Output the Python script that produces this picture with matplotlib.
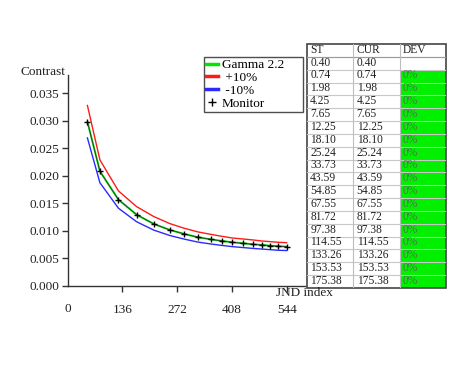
import matplotlib
matplotlib.use("Agg")
import matplotlib.pyplot as plt
from matplotlib.lines import Line2D
from matplotlib.patches import Rectangle

plt.rcParams['font.family'] = ['Liberation Serif', 'DejaVu Serif']

# JND index of each measured step
jnd = [49, 80, 126, 171, 214, 254, 290, 324, 355, 383, 409, 436, 461, 482, 503, 523, 544]
gamma22 = [0.0298, 0.0208, 0.01565, 0.01292, 0.01122, 0.01013, 0.0094, 0.0088, 0.00843,
           0.00813, 0.00789, 0.0077, 0.00752, 0.0074, 0.00728, 0.00716, 0.0071]
plus10 = [0.03276, 0.02287, 0.01723, 0.01438, 0.01256, 0.01128, 0.01043, 0.00977, 0.00934,
          0.00898, 0.00867, 0.00849, 0.00831, 0.00813, 0.00801, 0.00789, 0.00782]
minus10 = [0.02686, 0.01872, 0.01409, 0.01163, 0.0101, 0.00912, 0.00846, 0.00792, 0.00759,
           0.00732, 0.0071, 0.00693, 0.00677, 0.00666, 0.00655, 0.00644, 0.00639]
monitor = [0.0298, 0.0208, 0.01565, 0.01292, 0.01122, 0.01013, 0.0094, 0.0088, 0.00843,
           0.00813, 0.00789, 0.0077, 0.00752, 0.0074, 0.00728, 0.00716, 0.0071]

x_ticks = [136, 272, 408, 544]
y_ticks = [0.0, 0.005, 0.010, 0.015, 0.020, 0.025, 0.030, 0.035]

table_header = ["ST", "CUR", "DEV"]
st_vals = ["0.40", "0.74", "1.98", "4.25", "7.65", "12.25", "18.10", "25.24", "33.73", "43.59",
           "54.85", "67.55", "81.72", "97.38", "114.55", "133.26", "153.53", "175.38"]
cur_vals = ["0.40", "0.74", "1.98", "4.25", "7.65", "12.25", "18.10", "25.24", "33.73", "43.59",
            "54.85", "67.55", "81.72", "97.38", "114.55", "133.26", "153.53", "175.38"]
dev_vals = ["", "0%", "0%", "0%", "0%", "0%", "0%", "0%", "0%", "0%", "0%", "0%", "0%", "0%",
            "0%", "0%", "0%", "0%"]

W, H = 465, 368
fig = plt.figure(figsize=(W / 100, H / 100), dpi=100)
fig.patch.set_facecolor('white')

ax = fig.add_axes([67.7 / W, (H - 285.7) / H, (305 - 67.7) / W, (285.7 - 75) / H])
GREEN = '#00e600'
ax.plot(jnd, plus10, color='#ff1a1a', lw=1.0)
ax.plot(jnd, minus10, color='#2a2aff', lw=1.0)
ax.plot(jnd, gamma22, color=GREEN, lw=1.4)
ax.plot(jnd, monitor, color='#333333', lw=0.6, marker='+', ms=4.5, mew=1.0, mfc='k', mec='k')

ax.set_xlim(0, 589.5)
ax.set_ylim(0, 0.0383)
for s in ['top', 'right']:
    ax.spines[s].set_visible(False)
for s in ['left', 'bottom']:
    ax.spines[s].set_color('#333333')
    ax.spines[s].set_linewidth(1.0)
ax.set_xticks(x_ticks)
ax.set_xticklabels([str(v) for v in x_ticks])
ax.set_yticks(y_ticks)
ax.set_yticklabels([f"{v:.3f}" for v in y_ticks])
ax.tick_params(axis='y', direction='out', length=4, width=1, colors='#333333', labelcolor='#222222',
               labelsize=9.5, pad=2)
ax.tick_params(axis='x', direction='out', length=4, width=1, colors='#333333', labelcolor='#222222',
               labelsize=9.5, pad=9)
# extra "0" label at the origin
fig.text(67.7 / W, 1 - 309 / H, "0", ha='center', va='center', fontsize=9.5, color='#222222')
fig.text(65 / W, 1 - 72 / H, "Contrast", ha='right', va='center', fontsize=9.5, color='#222222')
fig.text(276 / W, 1 - 293 / H, "JND index", ha='left', va='center', fontsize=9.5, color='#222222')

handles = [Line2D([], [], color=GREEN, lw=2.5),
           Line2D([], [], color='#ff1a1a', lw=2.5),
           Line2D([], [], color='#2a2aff', lw=2.5),
           Line2D([], [], color='k', lw=0, marker='+', ms=6, mew=1.0)]
labels = ["Gamma 2.2     ", " +10%", " -10%", "Monitor"]
leg = fig.legend(handles, labels, loc='upper left', bbox_to_anchor=(204 / W, 1 - 57 / H),
                 frameon=True, fancybox=False, edgecolor='#222222', fontsize=9.5,
                 handlelength=0.9, handletextpad=0.3, borderpad=0.15, labelspacing=0.05,
                 borderaxespad=0)
leg.get_frame().set_linewidth(1.0)

# table
tx0, tx1, ty0, ty1 = 307, 446, 44, 288
tax = fig.add_axes([tx0 / W, (H - ty1) / H, (tx1 - tx0) / W, (ty1 - ty0) / H])
nrows = len(st_vals) + 1
ncols = 3
tax.set_xlim(0, ncols)
tax.set_ylim(nrows, 0)
tax.axis('off')
for i, v in enumerate(dev_vals):
    r = i + 1
    if v:
        tax.add_patch(Rectangle((2, r), 1, 1, facecolor='#00f000', edgecolor='none'))
for r in range(1, nrows):
    tax.plot([0, ncols], [r, r], color='#c8c8c8', lw=0.8)
tax.plot([0, ncols], [1, 1], color='#9a9a9a', lw=0.8)
for c in range(1, ncols):
    tax.plot([c, c], [0, nrows], color='#bdbdbd', lw=0.8)
tax.add_patch(Rectangle((0, 0), ncols, nrows, facecolor='none', edgecolor='#444444', lw=1.2,
                        clip_on=False))
for c, h in enumerate(table_header):
    tax.text(c + 0.07, 0.45, h, ha='left', va='center', fontsize=8.3, color='#222222')
for i in range(len(st_vals)):
    r = i + 1.45
    tax.text(0.07, r, st_vals[i], ha='left', va='center', fontsize=8.3, color='#222222')
    tax.text(1.07, r, cur_vals[i], ha='left', va='center', fontsize=8.3, color='#222222')
    tax.text(2.07, r, dev_vals[i], ha='left', va='center', fontsize=8.3, color='#5a6a5a')

fig.savefig('out.png', dpi=100)
